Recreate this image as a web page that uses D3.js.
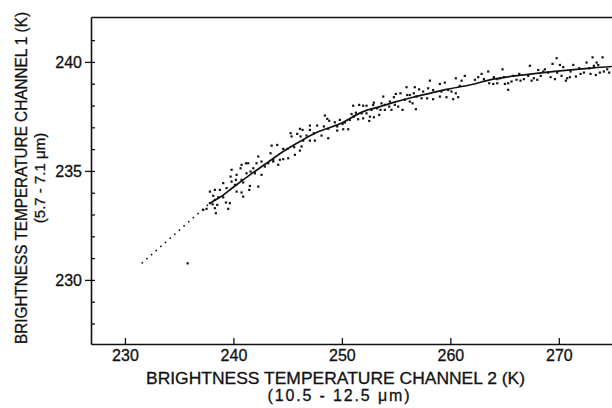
<!DOCTYPE html>
<html>
<head>
<meta charset="utf-8">
<script src="https://cdn.jsdelivr.net/npm/d3@7"></script>
<style>
  html, body { margin: 0; padding: 0; background: #fff; }
  svg { display: block; font-family: "Liberation Sans", Arial, Helvetica, sans-serif; }
</style>
</head>
<body>
<svg id="chart" width="612" height="408"></svg>
<script>
// ---- data ----
const xTicks = [230, 240, 250, 260, 270];
const yTicks = [230, 235, 240];
const yMinorTicks = [228, 229, 230, 231, 232, 233, 234, 235, 236, 237, 238, 239, 240, 241];

const xTitle = "BRIGHTNESS TEMPERATURE CHANNEL 2 (K)";
const xSubTitle = "(10.5 - 12.5 \u03bcm)";
const yTitle = "BRIGHTNESS TEMPERATURE CHANNEL 1 (K)";
const ySubTitle = "(5.7 - 7.1 \u03bcm)";

// scatter: channel 2 (x, K) and channel 1 (y, K)
const scatterX = [
  248.43,248.65,248.83,249.35,249.57,249.57,247.72,247.05,247.05,247.42,246.13,246.37,245.88,245.27,245.36,246.19,246.74,246.43,247.05,247.51,
  248.12,248.74,248.74,248.34,244.99,245.60,246.28,246.13,245.67,245.05,244.59,244.59,244.04,243.52,243.42,243.67,244.28,244.13,243.67,243.21,
  242.90,242.59,242.29,242.13,241.83,241.36,241.15,240.75,240.66,241.21,241.58,241.98,242.59,242.29,241.52,240.90,240.75,240.29,239.83,239.74,
  240.23,240.14,239.83,239.37,239.06,238.75,238.29,237.83,238.14,238.60,239.06,238.29,237.83,238.08,238.51,238.29,239.31,239.67,239.52,237.52,
  237.22,238.38,240.29,240.75,240.90,241.46,
  258.11,259.03,259.49,260.50,261.03,261.33,260.87,260.10,260.50,259.18,259.80,258.41,257.95,257.49,257.12,256.72,255.96,255.40,254.97,254.79,
  256.02,256.26,256.63,256.88,257.34,257.86,258.41,259.03,259.64,260.26,260.72,255.80,256.26,256.51,256.82,255.59,255.19,254.88,254.42,253.81,
  253.65,253.96,254.36,254.57,253.96,253.56,253.25,252.88,252.73,252.95,252.27,251.96,251.59,251.04,251.29,251.81,252.27,252.58,252.95,253.44,
  252.52,251.96,251.50,251.10,250.89,250.73,250.27,250.06,249.81,250.12,250.58,
  262.26,262.57,262.88,263.09,263.49,263.58,263.95,264.01,264.32,264.32,264.57,264.81,264.94,265.03,265.33,265.33,265.64,265.80,266.10,266.35,
  266.47,266.78,267.18,267.33,267.49,267.70,268.01,268.10,268.33,268.56,268.71,269.02,269.24,269.42,269.64,269.79,269.85,270.10,270.25,270.40,
  270.65,270.77,271.02,271.08,271.33,271.57,271.88,272.00,272.31,272.55,272.80,272.92,273.11,273.23,273.41,273.48,273.63,273.78,274.03,274.15,
  274.46,274.64,
  235.78
];
const scatterY = [
  237.54,237.39,237.30,237.23,237.04,236.85,237.08,237.08,236.88,236.73,236.93,236.88,236.70,236.73,236.58,236.58,236.62,236.39,236.39,236.39,
  236.62,236.50,236.93,237.04,236.01,236.09,236.12,235.93,235.74,235.58,235.54,236.01,236.19,236.16,235.81,235.51,235.51,235.28,235.43,235.35,
  235.20,235.43,235.66,235.35,235.12,235.35,235.35,235.28,235.12,234.89,234.97,234.89,234.82,234.28,234.31,234.47,234.59,234.82,235.05,234.74,
  234.59,234.36,234.51,234.21,234.44,234.13,234.13,234.05,233.86,233.79,233.79,233.67,233.52,233.47,233.44,233.29,233.55,233.52,233.26,233.26,
  233.21,233.06,234.05,234.01,233.82,234.13,
  239.14,238.99,239.05,239.25,239.14,239.36,238.90,238.64,238.56,238.64,238.71,238.71,238.79,238.64,238.74,238.84,238.84,238.56,238.53,238.38,
  238.48,238.48,238.56,238.41,238.33,238.33,238.29,238.41,238.38,238.29,238.38,238.26,238.18,238.10,237.83,237.80,237.95,238.03,238.18,238.41,
  238.10,238.03,237.95,237.80,237.80,237.80,237.87,238.03,237.80,238.13,237.99,237.99,238.03,237.99,237.67,237.64,237.64,237.49,237.46,237.57,
  237.29,237.41,237.37,237.49,237.61,237.34,237.22,237.15,237.34,236.91,236.91,
  239.18,239.30,239.45,239.21,239.56,239.02,238.99,239.30,239.02,239.21,239.25,239.66,239.30,238.99,238.72,239.02,239.10,239.36,239.18,239.45,
  239.14,239.21,239.36,239.82,239.14,239.25,239.18,239.63,239.36,239.56,239.66,239.51,239.30,239.91,239.21,240.17,239.51,239.86,239.36,239.76,
  239.14,239.25,239.30,239.56,239.86,239.33,239.71,239.45,239.51,239.97,239.71,239.45,240.21,239.82,239.40,239.97,239.86,239.51,240.21,239.56,
  239.66,239.51,
  230.76
];

// fitted curve (solid)
const fitX = [237.83,238.75,239.98,241.52,243.05,244.59,246.13,247.66,249.81,251.96,253.50,255.03,256.57,258.11,259.64,261.79,263.95,265.49,267.02,268.56,270.10,271.63,273.17,274.89];
const fitY = [233.52,233.79,234.25,234.82,235.35,235.89,236.35,236.76,237.16,237.72,237.95,238.18,238.38,238.56,238.74,238.94,239.21,239.33,239.42,239.51,239.59,239.66,239.73,239.79];

// extrapolated fit (dotted)
const dotX = [231.54, 237.83];
const dotY = [230.76, 233.52];

// ---- drawing ----
const svg = d3.select("#chart");
const x = d3.scaleLinear().domain([226.87, 274.9]).range([91, 612]);
const y = d3.scaleLinear().domain([227.06, 242.06]).range([344, 17]);

const ink = "#111";
const textStroke = 0.3;

// dotted extrapolation
const line = d3.line().x(d => x(d[0])).y(d => y(d[1]));
svg.append("path")
  .attr("d", line(d3.zip(dotX, dotY)))
  .attr("fill", "none").attr("stroke", ink)
  .attr("stroke-width", 1.6).attr("stroke-dasharray", "1.6 4.6");

// scatter points
svg.append("g").selectAll("rect")
  .data(d3.zip(scatterX, scatterY))
  .join("rect")
  .attr("x", d => x(d[0]) - 1.1)
  .attr("y", d => y(d[1]) - 1.1)
  .attr("width", 2.2).attr("height", 2.2)
  .attr("fill", ink);

// fitted curve
const curve = d3.line().x(d => x(d[0])).y(d => y(d[1])).curve(d3.curveMonotoneX);
svg.append("path")
  .attr("d", curve(d3.zip(fitX, fitY)))
  .attr("fill", "none").attr("stroke", ink).attr("stroke-width", 1.7);

// axes
const fontSize = 16;
const gx = svg.append("g").attr("transform", `translate(0,${y.range()[0]})`)
  .call(d3.axisBottom(x).tickValues(xTicks).tickSize(-6).tickSizeOuter(0).tickPadding(6).tickFormat(d3.format("d")));
const gTop = svg.append("g").attr("transform", `translate(0,${y.range()[1]})`)
  .call(d3.axisTop(x).tickValues([]).tickSizeOuter(0));
const gyMinor = svg.append("g").attr("transform", `translate(${x.range()[0]},0)`)
  .call(d3.axisLeft(y).tickValues(yMinorTicks).tickSize(-4).tickSizeOuter(0).tickFormat(""));
const gy = svg.append("g").attr("transform", `translate(${x.range()[0]},0)`)
  .call(d3.axisLeft(y).tickValues(yTicks).tickSize(6).tickSizeOuter(0).tickPadding(3).tickFormat(d3.format("d")));

[gx, gTop, gyMinor, gy].forEach(g => {
  g.selectAll("path.domain").attr("stroke", ink).attr("stroke-width", 1.6);
  g.selectAll(".tick line").attr("stroke", ink).attr("stroke-width", 1.3);
  g.selectAll(".tick text").attr("fill", ink).attr("font-size", fontSize)
    .attr("stroke", ink).attr("stroke-width", textStroke)
    .attr("font-family", "Liberation Sans, Arial, sans-serif");
});
gyMinor.selectAll("path.domain").remove();

// titles
svg.append("text").attr("x", 335.5).attr("y", 384).attr("text-anchor", "middle")
  .attr("font-size", 17).attr("fill", ink).attr("stroke", ink).attr("stroke-width", textStroke)
  .attr("textLength", 379).attr("lengthAdjust", "spacingAndGlyphs").text(xTitle);
svg.append("text").attr("x", 338.5).attr("y", 401).attr("text-anchor", "middle")
  .attr("font-size", 16).attr("fill", ink).attr("stroke", ink).attr("stroke-width", textStroke)
  .attr("textLength", 142).attr("lengthAdjust", "spacing").text(xSubTitle);

svg.append("text").attr("transform", "translate(27,178) rotate(-90)").attr("text-anchor", "middle")
  .attr("font-size", 16).attr("fill", ink).attr("stroke", ink).attr("stroke-width", textStroke)
  .attr("textLength", 332).attr("lengthAdjust", "spacingAndGlyphs").text(yTitle);
svg.append("text").attr("transform", "translate(45,178) rotate(-90)").attr("text-anchor", "middle")
  .attr("font-size", 15).attr("fill", ink).attr("stroke", ink).attr("stroke-width", textStroke)
  .text(ySubTitle);
</script>
</body>
</html>
